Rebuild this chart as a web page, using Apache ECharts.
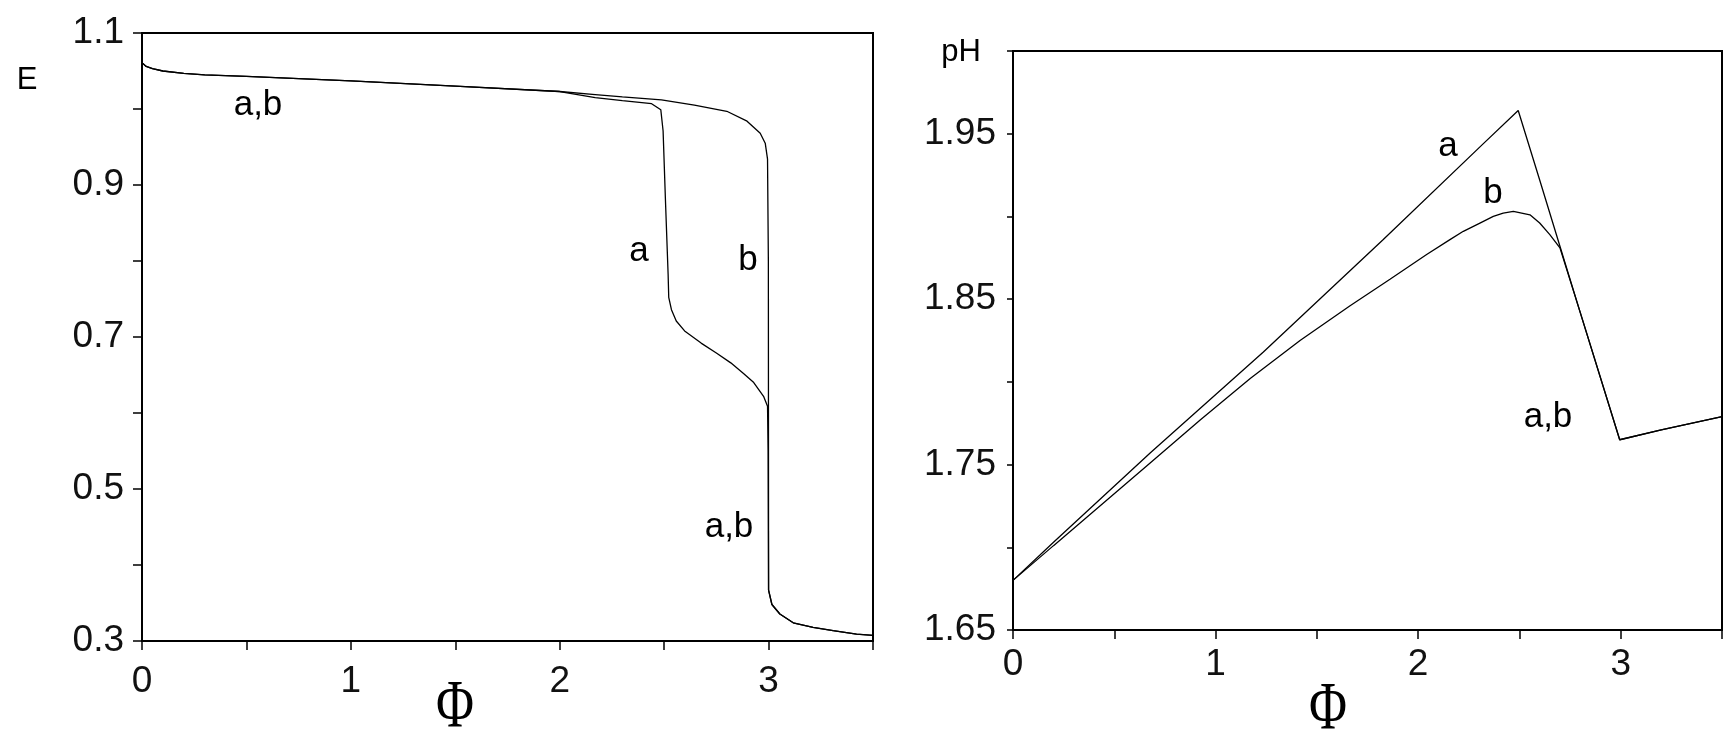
<!DOCTYPE html>
<html><head><meta charset="utf-8">
<script src="https://cdn.jsdelivr.net/npm/echarts@6/dist/echarts.min.js"></script>
<style>html,body{margin:0;padding:0;background:#fff}#c{width:1732px;height:741px}</style>
</head><body><div id="c"></div>
<script>
// tick labels
const xTickLabels = [0, 1, 2, 3];
const eTickLabels = [0.3, 0.5, 0.7, 0.9, 1.1];
const phTickLabels = [1.65, 1.75, 1.85, 1.95];

// left panel: E vs Phi
const eCurveA = [[0,1.061],[0.02,1.056],[0.05,1.053],[0.1,1.050],[0.2,1.047],[0.3,1.045],[0.5,1.043],[1.0,1.037],[1.5,1.030],[2.0,1.023],[2.17,1.015],[2.3,1.011],[2.44,1.007],[2.484,0.999],[2.495,0.971],[2.506,0.882],[2.519,0.783],[2.522,0.752],[2.535,0.736],[2.558,0.721],[2.598,0.708],[2.677,0.692],[2.75,0.679],[2.819,0.666],[2.88,0.652],[2.929,0.640],[2.976,0.622],[2.995,0.609],[2.998,0.55],[3.0,0.367],[3.016,0.348],[3.054,0.3355],[3.118,0.324],[3.213,0.318],[3.309,0.3136],[3.421,0.309],[3.5,0.3075]];
const eCurveB = [[0,1.061],[0.02,1.056],[0.05,1.053],[0.1,1.050],[0.2,1.047],[0.3,1.045],[0.5,1.043],[1.0,1.037],[1.5,1.030],[2.0,1.023],[2.17,1.019],[2.3,1.016],[2.487,1.012],[2.645,1.005],[2.80,0.997],[2.897,0.984],[2.96,0.968],[2.984,0.955],[2.995,0.934],[2.999,0.80],[3.0,0.367],[3.016,0.348],[3.054,0.3355],[3.118,0.324],[3.213,0.318],[3.309,0.3136],[3.421,0.309],[3.5,0.3075]];

// right panel: pH vs Phi
const phCurveA = [[0,1.680],[0.2,1.703],[0.677,1.757],[1.236,1.818],[1.828,1.886],[2.322,1.944],[2.494,1.964],[2.6,1.922],[2.7,1.882],[2.8,1.842],[2.995,1.765],[3.2,1.771],[3.5,1.779]];
const phCurveB = [[0,1.680],[0.2,1.701],[0.677,1.751],[0.924,1.777],[1.171,1.802],[1.417,1.825],[1.664,1.846],[1.861,1.862],[2.042,1.877],[2.157,1.886],[2.223,1.891],[2.305,1.896],[2.371,1.900],[2.42,1.902],[2.47,1.903],[2.552,1.901],[2.60,1.896],[2.65,1.889],[2.70,1.881],[2.8,1.842],[2.995,1.765],[3.2,1.771],[3.5,1.779]];

const near = (arr, v) => arr.some(t => Math.abs(t - v) < 1e-6);
const FONT = '"Liberation Sans", Arial, sans-serif';
const SERIF = '"Liberation Serif", "Times New Roman", serif';
const tickFont = { fontFamily: FONT, fontSize: 37, color: '#111' };
const axisLine = { show: true, onZero: false, lineStyle: { color: '#000', width: 2 } };

function xAxisOf(gi, tickLen, margin) {
  return {
    type: 'value', gridIndex: gi, min: 0, max: 3.5, interval: 0.5,
    axisLine: axisLine,
    axisTick: { show: true, inside: false, length: tickLen, lineStyle: { color: '#000', width: 1.5 } },
    splitLine: { show: false },
    axisLabel: Object.assign({ margin: margin, showMaxLabel: true, showMinLabel: true,
      formatter: v => near(xTickLabels, v) ? String(Math.round(v)) : '' }, tickFont)
  };
}

const lineS = (data, xi, yi) => ({
  type: 'line', xAxisIndex: xi, yAxisIndex: yi, data: data, showSymbol: false, symbol: 'none',
  smooth: false, animation: false, silent: true,
  lineStyle: { color: '#000', width: 1.3 }
});

const annot = (text, x, y, size, family, sy) => ({
  type: 'text', x: x, y: y, silent: true, scaleY: sy || 1,
  style: { text: text, font: (size || 35) + 'px ' + (family || FONT), fill: '#000', align: 'center', verticalAlign: 'middle', textAlign: 'center', textVerticalAlign: 'middle' }
});

const chart = echarts.init(document.getElementById('c'), null, { renderer: 'canvas' });
chart.setOption({
  backgroundColor: '#fff',
  animation: false,
  grid: [
    { left: 142, top: 33, width: 731, height: 608, show: true, borderColor: '#000', borderWidth: 2, containLabel: false },
    { left: 1013, top: 51, width: 709, height: 579, show: true, borderColor: '#000', borderWidth: 2, containLabel: false }
  ],
  xAxis: [ xAxisOf(0, 9, 22), xAxisOf(1, 9, 16) ],
  yAxis: [
    { type: 'value', gridIndex: 0, min: 0.3, max: 1.1, interval: 0.1,
      axisLine: axisLine,
      axisTick: { show: true, length: 9, lineStyle: { color: '#000', width: 1.5 } },
      splitLine: { show: false },
      axisLabel: Object.assign({ margin: 18, showMaxLabel: true, showMinLabel: true,
        formatter: v => near(eTickLabels, v) ? v.toFixed(1) : '' }, tickFont) },
    { type: 'value', gridIndex: 1, min: 1.65, max: 2.0, interval: 0.05,
      axisLine: axisLine,
      axisTick: { show: true, length: 6, lineStyle: { color: '#000', width: 1.5 } },
      splitLine: { show: false },
      axisLabel: Object.assign({ margin: 17, showMaxLabel: true, showMinLabel: true,
        formatter: v => near(phTickLabels, v) ? v.toFixed(2) : '' }, tickFont) }
  ],
  series: [
    lineS(eCurveA, 0, 0), lineS(eCurveB, 0, 0),
    lineS(phCurveA, 1, 1), lineS(phCurveB, 1, 1)
  ],
  graphic: [
    annot('E', 27, 80, 31),
    annot('pH', 961, 52, 31),
    annot('a,b', 258, 105),
    annot('a', 639, 251),
    annot('b', 748, 260),
    annot('a,b', 729, 527),
    annot('a', 1448, 146),
    annot('b', 1493, 193),
    annot('a,b', 1548, 417),
    annot('Φ', 455, 708, 52, SERIF, 1.3),
    annot('Φ', 1328, 710, 52, SERIF, 1.3)
  ]
});
</script></body></html>
